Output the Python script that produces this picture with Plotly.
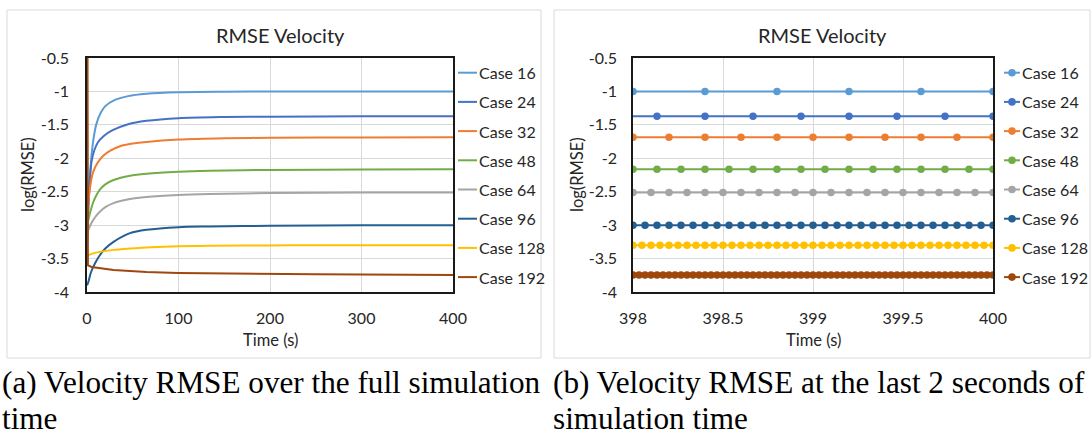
import numpy as np
import plotly.graph_objects as go

W, H = 1092, 441

cases = ["Case 16", "Case 24", "Case 32", "Case 48", "Case 64", "Case 96", "Case 128", "Case 192"]
colors = ["#5B9BD5", "#4472C4", "#ED7D31", "#70AD47", "#A5A5A5", "#255E91", "#FFC000", "#9E480E"]

# Full simulation history: time (s) and log10 of velocity RMSE
t_16 = [0, 1, 2, 3.3, 5, 7, 10, 15, 20, 30, 45, 65, 100, 150, 200, 300, 400]
v_16 = [-3.1, -2.75, -2.5, -2.25, -1.95, -1.72, -1.5, -1.32, -1.22, -1.13, -1.07, -1.035, -1.012, -1.004, -1.001, -1.0, -1.0]

t_24 = [0, 1, 2, 3.5, 5, 8, 12, 18, 28, 45, 65, 100, 150, 200, 300, 400]
v_24 = [-3.3, -2.95, -2.6, -2.25, -2.05, -1.88, -1.76, -1.67, -1.58, -1.49, -1.44, -1.40, -1.383, -1.377, -1.373, -1.372]

t_32 = [0, 1, 2, 4, 6, 9, 13, 18, 25, 36, 50, 65, 100, 150, 200, 300, 400]
v_32 = [-2.85, -2.75, -2.6, -2.38, -2.24, -2.13, -2.04, -1.96, -1.89, -1.82, -1.78, -1.755, -1.72, -1.70, -1.693, -1.688, -1.686]

t_48 = [0, 1.5, 4, 7, 10, 14, 20, 29, 47, 65, 100, 134, 200, 300, 400]
v_48 = [-3.03, -2.92, -2.78, -2.65, -2.56, -2.47, -2.39, -2.325, -2.26, -2.23, -2.20, -2.185, -2.175, -2.168, -2.165]

t_64 = [0, 1.5, 4, 7, 10, 14, 20, 29, 47, 65, 100, 134, 200, 300, 400]
v_64 = [-3.15, -3.07, -2.99, -2.92, -2.86, -2.80, -2.73, -2.67, -2.61, -2.58, -2.55, -2.535, -2.52, -2.512, -2.51]

t_96 = [0, 1.5, 4, 7, 10, 14, 20, 29, 47, 65, 100, 134, 200, 300, 400]
v_96 = [-3.9, -3.85, -3.72, -3.62, -3.54, -3.45, -3.35, -3.25, -3.12, -3.07, -3.03, -3.02, -3.01, -3.003, -3.0]

t_128 = [0, 0.5, 5, 14, 29, 47, 70, 100, 134, 200, 250, 300, 400]
v_128 = [-3.52, -3.46, -3.43, -3.40, -3.37, -3.35, -3.33, -3.315, -3.308, -3.303, -3.301, -3.30, -3.30]

t_192 = [0.5, 1, 5, 14, 29, 47, 65, 100, 134, 200, 250, 300, 400]
v_192 = [0.0, -3.6, -3.625, -3.645, -3.67, -3.685, -3.70, -3.715, -3.722, -3.73, -3.735, -3.74, -3.745]

full_t = [t_16, t_24, t_32, t_48, t_64, t_96, t_128, t_192]
full_v = [v_16, v_24, v_32, v_48, v_64, v_96, v_128, v_192]

# Last two seconds: output interval (s) and settled log10 RMSE per case
output_dt = [0.4, 4 / 15, 0.2, 2 / 15, 0.1, 1 / 15, 0.05, 1 / 30]
final_level = [-1.0, -1.372, -1.686, -2.165, -2.51, -3.0, -3.30, -3.745]

y_ticks = [-4, -3.5, -3, -2.5, -2, -1.5, -1, -0.5]
y_ticktext = ["-4", "-3.5", "-3", "-2.5", "-2", "-1.5", "-1", "-0.5"]
x1_ticks = [0, 100, 200, 300, 400]
x1_ticktext = ["0", "100", "200", "300", "400"]
x2_ticks = [398, 398.5, 399, 399.5, 400]
x2_ticktext = ["398", "398.5", "399", "399.5", "400"]

CHART_FONT = "Lato"
TXT = "#262626"


def px(x):
    return x / W


def py(y):
    return 1 - y / H


fig = go.Figure()

for i, name in enumerate(cases):
    shape = "linear" if i == len(cases) - 1 else "spline"
    fig.add_trace(go.Scatter(
        x=full_t[i], y=full_v[i], name=name, mode="lines",
        line=dict(color=colors[i], width=2, shape=shape, smoothing=0.8),
        xaxis="x", yaxis="y", showlegend=False,
    ))

for i, name in enumerate(cases):
    dt = output_dt[i]
    k = np.arange(np.ceil(397.8 / dt - 1e-6), np.floor(400 / dt + 1e-6) + 1)
    t = k * dt
    fig.add_trace(go.Scatter(
        x=t, y=[final_level[i]] * len(t), name=name, mode="lines+markers",
        line=dict(color=colors[i], width=2),
        marker=dict(color=colors[i], size=7.5),
        xaxis="x2", yaxis="y2", showlegend=False,
    ))

axis_common = dict(
    showgrid=True, gridcolor="#D9D9D9", gridwidth=1,
    showline=True, linecolor="#1a1a1a", linewidth=1.5, mirror=True,
    ticks="", zeroline=False, automargin=False,
    tickfont=dict(family=CHART_FONT, size=16, color=TXT),
)

y_top, y_bot = 58, 292

fig.update_layout(
    width=W, height=H,
    margin=dict(l=0, r=0, t=0, b=0, autoexpand=False),
    paper_bgcolor="white", plot_bgcolor="white",
    showlegend=False,
    xaxis=dict(domain=[px(87), px(453)], range=[0, 400], tickvals=x1_ticks, ticktext=x1_ticktext,
               anchor="y", ticklabelstandoff=11, **axis_common),
    yaxis=dict(domain=[py(y_bot), py(y_top)], range=[-4, -0.5], tickvals=y_ticks, ticktext=y_ticktext,
               anchor="x", ticklabelstandoff=13, **axis_common),
    xaxis2=dict(domain=[px(633), px(993)], range=[398, 400], tickvals=x2_ticks, ticktext=x2_ticktext,
                anchor="y2", ticklabelstandoff=11, **axis_common),
    yaxis2=dict(domain=[py(y_bot), py(y_top)], range=[-4, -0.5], tickvals=y_ticks, ticktext=y_ticktext,
                anchor="x2", ticklabelstandoff=11, **axis_common),
)

shapes = []
# chart frames
for x0, x1 in [(7, 541), (554, 1090)]:
    shapes.append(dict(type="rect", xref="paper", yref="paper",
                       x0=px(x0), x1=px(x1), y0=py(358), y1=py(10),
                       line=dict(color="#D9D9D9", width=1), fillcolor="rgba(0,0,0,0)"))

ann = []
for cx, tx, ylx in [(280, 270, 28), (822, 813, 577)]:
    ann.append(dict(text="RMSE Velocity", x=px(cx), y=py(35), xref="paper", yref="paper",
                    showarrow=False, xanchor="center", yanchor="middle",
                    font=dict(family=CHART_FONT, size=20, color=TXT)))
    ann.append(dict(text="Time (s)", x=px(tx), y=py(340), xref="paper", yref="paper",
                    showarrow=False, xanchor="center", yanchor="middle",
                    font=dict(family=CHART_FONT, size=16.5, color=TXT)))
    ann.append(dict(text="log(RMSE)", x=px(ylx), y=py(175), xref="paper", yref="paper",
                    showarrow=False, xanchor="center", yanchor="middle", textangle=-90,
                    font=dict(family=CHART_FONT, size=16.5, color=TXT)))

# legends: line swatch (and marker for the zoomed chart) followed by the case name
row0, row_step = 72.7, 29.2
for lx0, lx1, text_x, with_marker in [(458, 477, 477, False), (1004, 1020, 1020, True)]:
    for i, name in enumerate(cases):
        yy = py(row0 + i * row_step)
        shapes.append(dict(type="line", xref="paper", yref="paper",
                           x0=px(lx0), x1=px(lx1), y0=yy, y1=yy,
                           line=dict(color=colors[i], width=2)))
        if with_marker:
            shapes.append(dict(type="circle", xref="paper", yref="paper",
                               xsizemode="pixel", ysizemode="pixel",
                               xanchor=px((lx0 + lx1) / 2), yanchor=yy,
                               x0=-3.8, x1=3.8, y0=-3.8, y1=3.8,
                               line=dict(width=0), fillcolor=colors[i]))
        ann.append(dict(text=name, x=px(text_x), y=yy, xref="paper", yref="paper",
                        showarrow=False, xanchor="left", yanchor="middle",
                        font=dict(family=CHART_FONT, size=16, color=TXT)))

captions = [
    (0, "(a) Velocity RMSE over the full simulation", "time"),
    (551, "(b) Velocity RMSE at the last 2 seconds of", "simulation time"),
]
for cx, l1, l2 in captions:
    for yy, txt in [(382, l1), (418, l2)]:
        ann.append(dict(text=txt, x=px(cx), y=py(yy), xref="paper", yref="paper",
                        showarrow=False, xanchor="left", yanchor="middle",
                        font=dict(family="Liberation Serif", size=31.2, color="black")))

fig.update_layout(annotations=ann, shapes=shapes)

fig.write_html("out.html")
